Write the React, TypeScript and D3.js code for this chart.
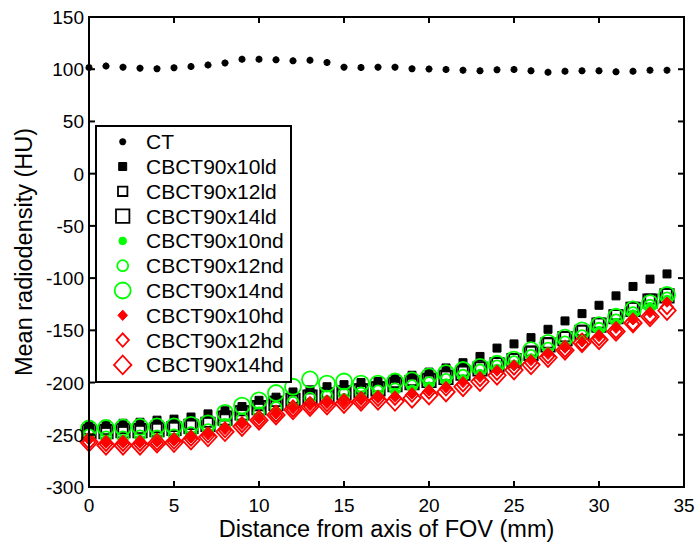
import React, { useEffect, useRef } from "react";
import * as d3 from "d3";

// Mean radiodensity vs distance from FOV axis, CT against nine CBCT protocols.
const distance = d3.range(0, 35); // 0..34 mm

const ct = [101.6, 103, 102, 101, 100.5, 101.5, 102.5, 104, 106, 109.5, 109.5, 109, 108, 108.5, 106.5, 102, 101.6, 102, 102, 100.5, 100.2, 99.7, 99, 98.5, 99.5, 99.7, 98.5, 97, 98, 98.5, 98.5, 97.5, 98, 99, 99];
const ld10 = [-241, -240, -239, -238, -236, -235, -233, -230, -227, -223, -217, -214, -209, -207, -204, -202, -200, -199, -196, -193, -190, -186, -181, -175, -167, -163, -157, -149, -141, -134, -126, -117, -108, -101, -96];
const ld12 = [-245, -245, -244, -244, -243, -242, -240, -238, -232, -227, -222, -218, -215, -212, -210, -208, -206, -204, -200, -198, -196, -193, -189, -185, -181, -177, -170, -162, -156, -150, -143, -135, -128, -120, -115];
const ld14 = [-247, -247, -246, -246, -245, -244, -242, -240, -234, -229, -224, -220, -217, -214, -212, -210, -208, -206, -202, -200, -198, -195, -191, -187, -183, -179, -172, -164, -158, -152, -145, -137, -130, -122, -117];
const nd10 = [-252, -254, -254, -254, -253, -252, -250, -247, -243, -238, -232, -227, -222, -218, -216, -214, -213, -211, -209, -206, -203, -200, -196, -191, -186, -182, -176, -170, -164, -157, -150, -142, -134, -127, -120];
const nd12 = [-250, -252, -252, -251, -251, -250, -248, -245, -240, -235, -229, -224, -219, -215, -213, -211, -210, -208, -206, -203, -200, -197, -193, -188, -184, -180, -174, -167, -161, -155, -148, -140, -133, -126, -119];
const nd14 = [-244, -243.5, -243, -242.5, -242, -242, -240.5, -239, -229, -222, -217, -210, -204, -197, -201, -199, -201, -201, -199, -198, -194, -191, -188, -185, -182, -178, -169, -162, -157, -150, -145, -137, -130, -124, -116];
const hd10 = [-255, -258, -258, -258, -257, -256, -253, -250, -245, -240, -235, -230, -225, -222, -220, -219, -217, -215, -214, -211, -208, -205, -200, -195, -189, -184, -179, -173, -167, -161, -156, -148, -140, -133, -123];
const hd12 = [-257, -259, -259, -259, -258, -257, -254, -251, -246, -241, -236, -231, -226, -223, -221, -219, -218, -216, -215, -212, -209, -206, -202, -197, -191, -186, -181, -175, -169, -163, -158, -151, -144, -137, -128];
const hd14 = [-257, -260, -260, -260, -258, -257.5, -255, -252, -247, -242, -236, -231, -226, -223, -221.5, -220, -218, -217, -218, -215, -212, -209, -204, -199, -193, -188, -183, -176, -169, -162, -159, -151, -143, -137, -131];

const xTicks = [0, 5, 10, 15, 20, 25, 30, 35];
const yTicks = [-300, -250, -200, -150, -100, -50, 0, 50, 100, 150];

const series = [
  { name: "CT", values: ct, shape: "star", size: 3.5, color: "#000", fill: true },
  { name: "CBCT90x10ld", values: ld10, shape: "square", size: 4, color: "#000", fill: true },
  { name: "CBCT90x12ld", values: ld12, shape: "square", size: 4.7, color: "#000", fill: false },
  { name: "CBCT90x14ld", values: ld14, shape: "square", size: 6.7, color: "#000", fill: false },
  { name: "CBCT90x10nd", values: nd10, shape: "circle", size: 3.8, color: "#00ff00", fill: true },
  { name: "CBCT90x12nd", values: nd12, shape: "circle", size: 5.5, color: "#00ff00", fill: false },
  { name: "CBCT90x14nd", values: nd14, shape: "circle", size: 8, color: "#00ff00", fill: false },
  { name: "CBCT90x10hd", values: hd10, shape: "diamond", size: 4.8, color: "#ff0000", fill: true },
  { name: "CBCT90x12hd", values: hd12, shape: "diamond", size: 6.2, color: "#ff0000", fill: false },
  { name: "CBCT90x14hd", values: hd14, shape: "diamond", size: 8.7, color: "#ff0000", fill: false },
];

function markerPath(shape: string, r: number) {
  if (shape === "square") return `M${-r},${-r}H${r}V${r}H${-r}Z`;
  if (shape === "diamond") return `M0,${-r * 1.08}L${r},0L0,${r * 1.08}L${-r},0Z`;
  if (shape === "circle") return d3.symbol(d3.symbolCircle, Math.PI * r * r)()!;
  // asterisk: crossing strokes
  let p = "";
  for (let k = 0; k < 4; k++) {
    const a = (k * Math.PI) / 4;
    p += `M${-r * Math.cos(a)},${-r * Math.sin(a)}L${r * Math.cos(a)},${r * Math.sin(a)}`;
  }
  return p;
}

export default function App() {
  const ref = useRef<SVGSVGElement>(null);

  useEffect(() => {
    document.body.style.margin = "0";
    const svg = d3.select(ref.current);
    svg.selectAll("*").remove();

    const left = 89, right = 684, top = 17, bottom = 487;
    const x = d3.scaleLinear().domain([0, 35]).range([left, right]);
    const y = d3.scaleLinear().domain([-300, 150]).range([bottom, top]);
    const font = "'Liberation Sans', Arial, sans-serif";

    const drawMarker = (g: any, s: any, cx: number, cy: number) => {
      const p = g.append("path")
        .attr("d", markerPath(s.shape, s.size))
        .attr("transform", `translate(${cx},${cy})`)
        .attr("fill", s.fill && s.shape !== "star" ? s.color : "none")
        .attr("stroke", s.color)
        .attr("stroke-width", s.shape === "star" ? 2.2 : s.fill ? 1 : 1.8);
      if (s.shape === "star") {
        g.append("circle").attr("cx", cx).attr("cy", cy).attr("r", 2.4).attr("fill", s.color);
      }
      return p;
    };

    // data
    const marks = svg.append("g");
    series.forEach((s) => {
      s.values.forEach((v, i) => drawMarker(marks, s, x(distance[i]), y(v)));
    });

    // axes box with inward ticks on all sides
    const ax = svg.append("g").attr("stroke", "#000").attr("stroke-width", 2);
    ax.append("rect")
      .attr("x", left).attr("y", top)
      .attr("width", right - left).attr("height", bottom - top)
      .attr("fill", "none");
    const tl = 6;
    xTicks.forEach((t) => {
      ax.append("line").attr("x1", x(t)).attr("x2", x(t)).attr("y1", bottom).attr("y2", bottom - tl);
      ax.append("line").attr("x1", x(t)).attr("x2", x(t)).attr("y1", top).attr("y2", top + tl);
    });
    yTicks.forEach((t) => {
      ax.append("line").attr("x1", left).attr("x2", left + tl).attr("y1", y(t)).attr("y2", y(t));
      ax.append("line").attr("x1", right).attr("x2", right - tl).attr("y1", y(t)).attr("y2", y(t));
    });

    const labels = svg.append("g").attr("font-family", font).attr("fill", "#000");
    xTicks.forEach((t) => {
      labels.append("text").attr("x", x(t)).attr("y", 512)
        .attr("text-anchor", "middle").attr("font-size", 19).text(t);
    });
    yTicks.forEach((t) => {
      labels.append("text").attr("x", 84).attr("y", y(t) + 7)
        .attr("text-anchor", "end").attr("font-size", 19).text(t);
    });
    labels.append("text").attr("x", (left + right) / 2).attr("y", 537)
      .attr("text-anchor", "middle").attr("font-size", 23.5)
      .text("Distance from axis of FOV (mm)");
    labels.append("text")
      .attr("transform", `translate(32,${(top + bottom) / 2}) rotate(-90)`)
      .attr("text-anchor", "middle").attr("font-size", 23.5)
      .text("Mean radiodensity (HU)");

    // legend
    const lg = svg.append("g");
    lg.append("rect")
      .attr("x", 96).attr("y", 126).attr("width", 195).attr("height", 256)
      .attr("fill", "#fff").attr("stroke", "#000").attr("stroke-width", 2);
    series.forEach((s, i) => {
      const cy = 141.7 + i * 24.8;
      drawMarker(lg, s, 122.7, cy);
      lg.append("text").attr("x", 146).attr("y", cy + 7.5)
        .attr("font-family", font).attr("font-size", 21).text(s.name);
    });
  }, []);

  return <svg ref={ref} width={698} height={543} style={{ display: "block", background: "#fff" }} />;
}
